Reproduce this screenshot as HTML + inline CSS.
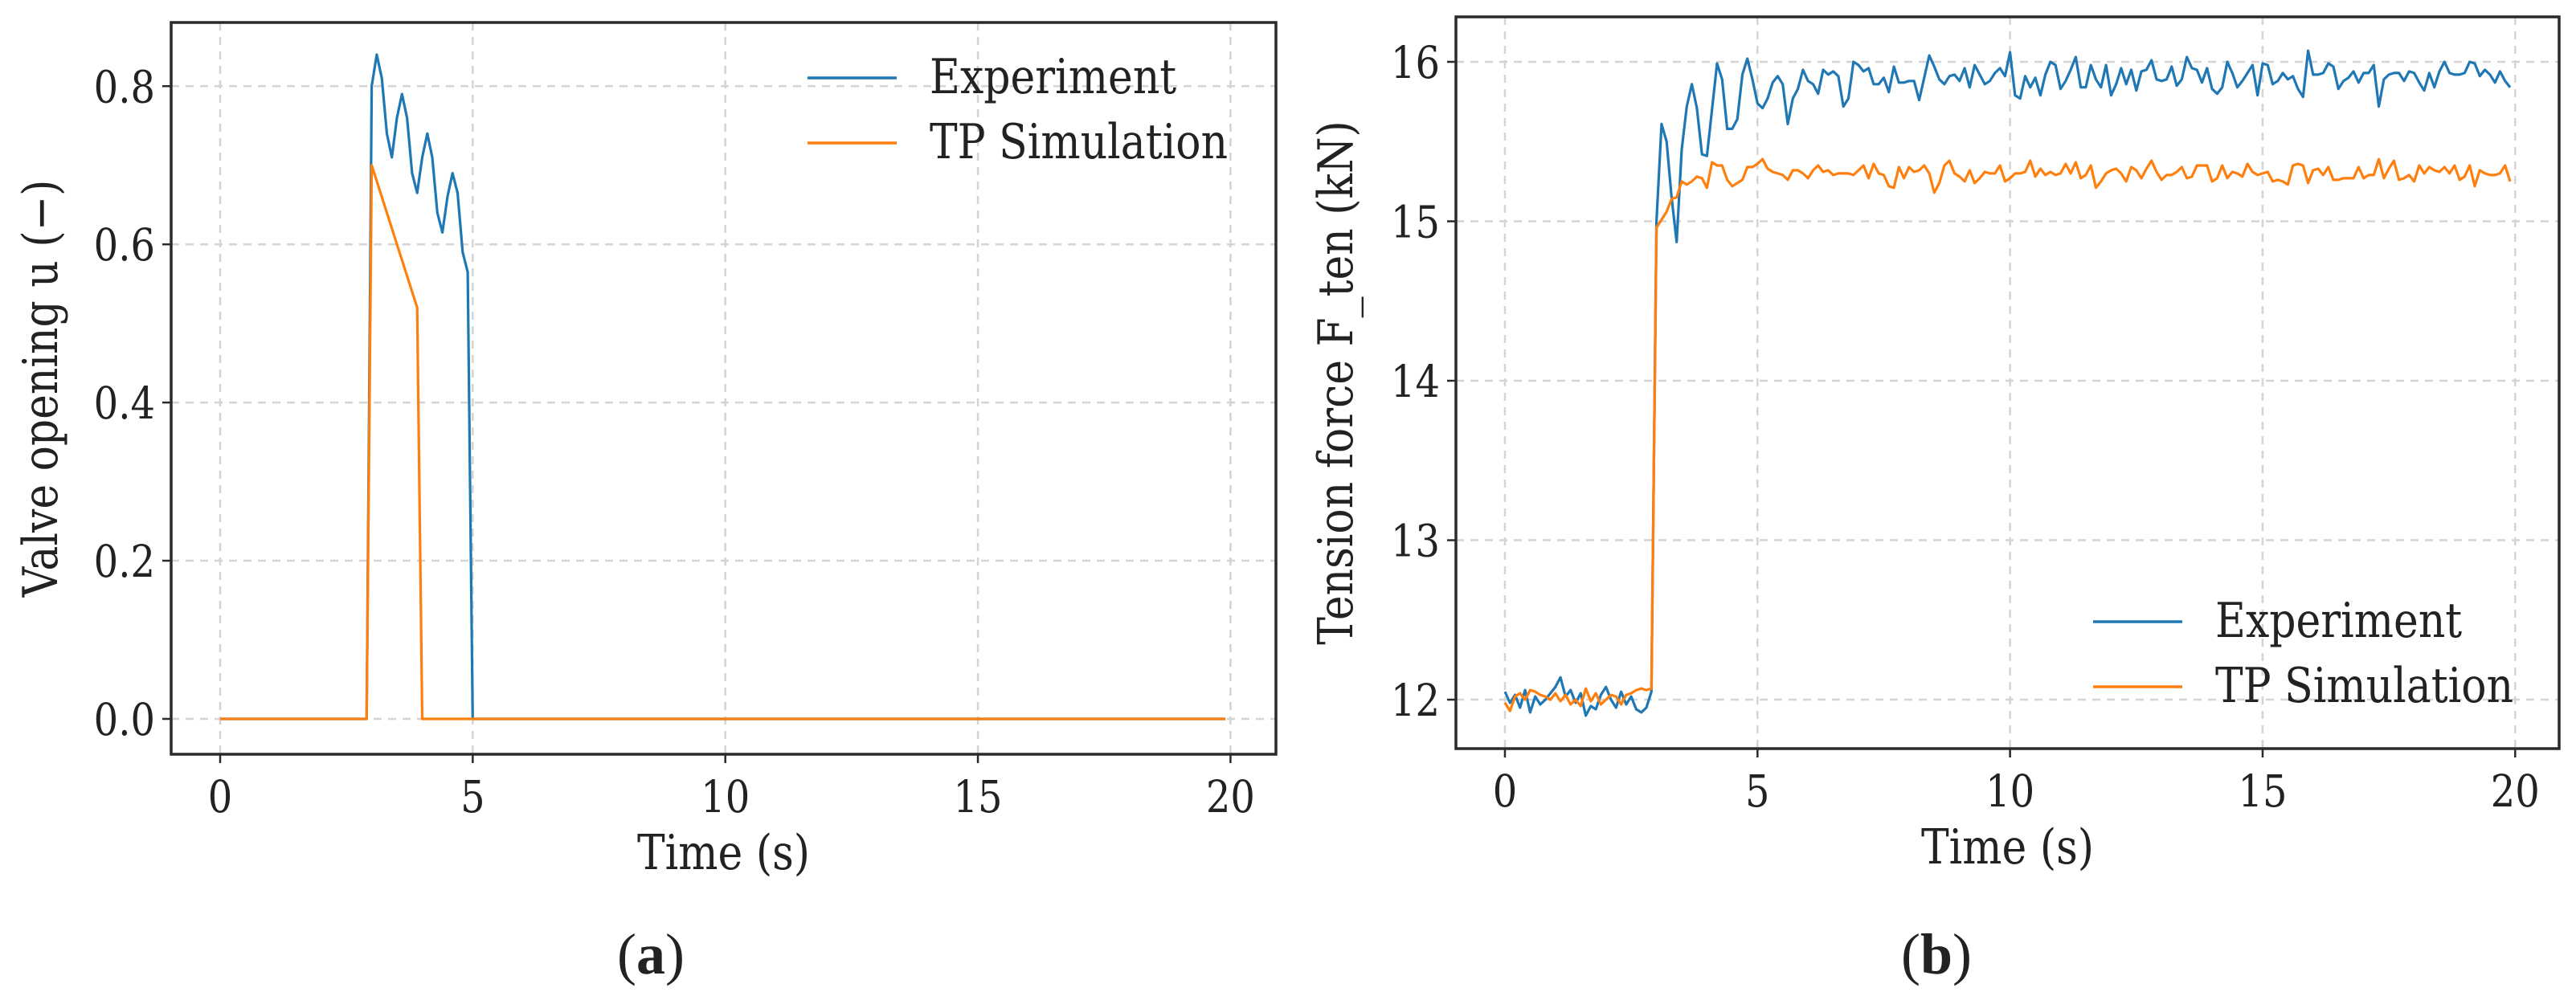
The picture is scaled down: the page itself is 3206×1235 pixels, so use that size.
<!DOCTYPE html>
<html><head><meta charset="utf-8">
<style>
html,body{margin:0;padding:0;background:#fff;}
svg{display:block;}
text{font-family:"DejaVu Serif","Liberation Serif",serif;fill:#222;}
</style></head>
<body>
<svg id="fig" width="3206" height="1235" viewBox="0 0 3206 1235" xmlns="http://www.w3.org/2000/svg">
<g id="pa"></g>
<g id="pb"></g>
<text x="810" y="1212" text-anchor="middle" style="font-family:'Liberation Serif',serif;font-size:72px">(<tspan font-weight="bold">a</tspan>)</text>
<text x="2410" y="1212" text-anchor="middle" style="font-family:'Liberation Serif',serif;font-size:72px">(<tspan font-weight="bold">b</tspan>)</text>
</svg>
<script>
// Panel (a) data
const aExpT = [0,2.9,3.0,3.1,3.2,3.3,3.4,3.5,3.6,3.7,3.8,3.9,4.0,4.1,4.2,4.3,4.4,4.5,4.6,4.7,4.8,4.9,5.0,19.9];
const aExpU = [0,0,0.80,0.84,0.81,0.74,0.71,0.76,0.79,0.76,0.69,0.665,0.71,0.74,0.71,0.64,0.615,0.66,0.69,0.665,0.59,0.565,0,0];
const aSimT = [0,2.9,3.0,3.9,4.0,19.9];
const aSimU = [0,0,0.70,0.52,0,0];
const aXTicks = [0,5,10,15,20];
const aYTicks = [0.0,0.2,0.4,0.6,0.8];
const aYTickLabels = ["0.0","0.2","0.4","0.6","0.8"];

// Panel (b) data (sampled every 0.1 s)
const bExp = [12.05,11.98,12.03,11.95,12.06,11.92,12.02,11.97,12.00,12.04,12.08,12.14,12.02,12.06,11.98,12.04,11.90,11.96,11.94,12.03,12.08,12.00,11.95,12.05,11.97,12.02,11.94,11.92,11.95,12.05,
15.00,15.61,15.50,15.15,14.87,15.45,15.72,15.86,15.71,15.42,15.41,15.70,15.99,15.89,15.58,15.58,15.64,15.92,16.02,15.89,
15.74,15.71,15.77,15.87,15.91,15.86,15.61,15.77,15.83,15.95,15.88,15.86,15.80,15.95,15.92,15.94,15.91,15.72,15.77,16.00,
15.98,15.94,15.96,15.86,15.86,15.90,15.81,15.97,15.87,15.87,15.88,15.88,15.76,15.90,16.04,15.97,15.89,15.86,15.91,15.92,
15.88,15.96,15.84,15.98,15.92,15.86,15.88,15.93,15.96,15.91,
16.06,15.79,15.77,15.91,15.84,15.90,15.79,15.92,16.00,15.98,
15.83,15.88,15.95,16.03,15.84,15.84,15.98,15.89,15.84,15.98,
15.79,15.86,15.96,15.86,15.95,15.82,15.94,15.95,16.01,15.89,
15.88,15.89,15.97,15.85,15.89,16.03,15.96,15.95,15.87,15.96,
15.83,15.80,15.84,16.00,15.93,15.84,15.88,15.93,15.98,15.79,
15.99,15.98,15.86,15.88,15.93,15.89,15.91,15.83,15.78,16.07,
15.92,15.92,15.93,15.99,15.97,15.83,15.88,15.90,15.94,15.87,
15.93,15.93,15.98,15.72,15.89,15.92,15.93,15.93,15.88,15.94,
15.93,15.87,15.82,15.93,15.84,15.94,16.00,15.93,15.92,15.92,
15.93,16.00,15.99,15.91,15.95,15.92,15.87,15.94,15.88,15.84];
const bSim = [11.98,11.93,12.02,12.04,12.00,12.06,12.05,12.03,12.02,12.00,12.04,11.99,12.03,11.97,12.00,11.96,12.07,11.99,12.04,11.97,12.00,12.03,12.02,11.97,12.03,12.04,12.06,12.07,12.06,12.07,
14.96,15.01,15.06,15.14,15.15,15.25,15.23,15.25,15.28,15.27,15.21,15.37,15.35,15.35,15.26,15.22,15.24,15.26,15.34,15.34,
15.36,15.39,15.33,15.31,15.30,15.29,15.26,15.32,15.32,15.30,15.27,15.32,15.35,15.31,15.32,15.29,15.30,15.30,15.30,15.29,
15.32,15.35,15.27,15.36,15.30,15.29,15.22,15.21,15.34,15.27,15.34,15.31,15.32,15.35,15.30,15.18,15.24,15.35,15.38,15.30,
15.28,15.25,15.32,15.24,15.27,15.31,15.30,15.30,15.35,15.25,
15.27,15.30,15.30,15.31,15.38,15.28,15.33,15.29,15.31,15.29,
15.30,15.36,15.30,15.37,15.27,15.29,15.35,15.21,15.25,15.30,
15.32,15.33,15.30,15.25,15.34,15.32,15.27,15.33,15.38,15.31,
15.26,15.29,15.29,15.31,15.34,15.27,15.28,15.35,15.35,15.35,
15.25,15.27,15.35,15.27,15.31,15.30,15.28,15.36,15.31,15.29,
15.30,15.31,15.25,15.26,15.25,15.23,15.35,15.36,15.35,15.24,
15.32,15.33,15.29,15.34,15.26,15.26,15.27,15.27,15.27,15.34,
15.27,15.29,15.29,15.39,15.27,15.33,15.38,15.26,15.27,15.29,
15.25,15.35,15.30,15.34,15.32,15.31,15.34,15.30,15.35,15.26,
15.28,15.35,15.22,15.32,15.30,15.29,15.29,15.30,15.35,15.25];
const bStep = 0.1;
const bXTicks = [0,5,10,15,20];
const bYTicks = [12,13,14,15,16];
const bYTickLabels = ["12","13","14","15","16"];

const NS = "http://www.w3.org/2000/svg";
function mk(parent, tag, attrs){const e=document.createElementNS(NS,tag);for(const k in attrs)e.setAttribute(k,attrs[k]);parent.appendChild(e);return e;}
function txt(parent,x,y,s,size,anchor,rot){
  const g=mk(parent,'g',{transform:`translate(${x},${y})`+(rot?' rotate(-90)':'')+' scale(1,1.15)'});
  const t=mk(g,'text',{x:0,y:0,'text-anchor':anchor,style:`font-size:${size}px`});
  t.textContent=s;return t;
}

function panel(root, cfg){
  const {L,R,T,B,xmin,xmax,ymin,ymax} = cfg;
  const sx = v => L + (v - xmin)/(xmax - xmin)*(R - L);
  const sy = v => B - (v - ymin)/(ymax - ymin)*(B - T);
  const grid = mk(root,'g',{});
  
  
  cfg.xt.forEach(v=>{mk(grid,'line',{x1:sx(v),x2:sx(v),y1:T,y2:B,stroke:'#d4d4d4','stroke-width':2.5,'stroke-dasharray':'10,8'});});
  cfg.yt.forEach(v=>{mk(grid,'line',{x1:L,x2:R,y1:sy(v),y2:sy(v),stroke:'#d4d4d4','stroke-width':2.5,'stroke-dasharray':'10,8'});});
  cfg.series.forEach(s=>{
    const d = s.x.map((xv,i)=>(i?'L':'M')+sx(xv).toFixed(1)+','+sy(s.y[i]).toFixed(1)).join(' ');
    const p = mk(root,'path',{d:d,fill:'none',stroke:s.color,'stroke-width':3.2,'stroke-linejoin':'round'});
    
    
  });
  const fr = mk(root,'rect',{x:L,y:T,width:R-L,height:B-T,fill:'none',stroke:'#2a2a2a','stroke-width':3.5});
  
  
  const xa = mk(root,'g',{});
  
  
  cfg.xt.forEach(v=>{
    mk(xa,'line',{x1:sx(v),x2:sx(v),y1:B,y2:B+11,stroke:'#2a2a2a','stroke-width':2.5});
    const t=txt(xa,sx(v),B+72,String(v),48,'middle');
    
    
  });
  const ya = mk(root,'g',{});
  
  
  cfg.yt.forEach((v,i)=>{
    mk(ya,'line',{x1:L-11,x2:L,y1:sy(v),y2:sy(v),stroke:'#2a2a2a','stroke-width':2.5});
    const t=txt(ya,L-20,sy(v)+20,cfg.ytl[i],48,'end');
    
    
  });
  const xt=txt(root,(L+R)/2,B+143,'Time (s)',52,'middle');
  
  
  const yt=txt(root,cfg.ytx,(T+B)/2,cfg.ytitle,52,'middle',true);
  
  
  const lg = mk(root,'g',{});
  
  
  cfg.series.forEach((s,i)=>{
    const y = cfg.legY + i*81;
    const e = mk(lg,'g',{});
    
    
    mk(e,'line',{x1:cfg.legX,x2:cfg.legX+111,y1:y,y2:y,stroke:s.color,'stroke-width':3.5});
    txt(e,cfg.legX+152,y+19,s.label,52,'start');
  });
}

const bT = bExp.map((_,i)=>+(i*bStep).toFixed(1));

panel(document.getElementById('pa'),{
  L:213,R:1588,T:28,B:939, xmin:-0.97, xmax:20.9, ymin:-0.0447, ymax:0.8805,
  xt:aXTicks, yt:aYTicks, ytl:aYTickLabels, ytx:71, ytitle:'Valve opening u (\u2212)',
  legX:1005, legY:97,
  series:[{name:'experiment-line',label:'Experiment',color:'#1f77b4',x:aExpT,y:aExpU},
          {name:'tp-simulation-line',label:'TP Simulation',color:'#ff7f0e',x:aSimT,y:aSimU}]
});
panel(document.getElementById('pb'),{
  L:1812,R:3185,T:21,B:932, xmin:-0.97, xmax:20.87, ymin:11.693, ymax:16.282,
  xt:bXTicks, yt:bYTicks, ytl:bYTickLabels, ytx:1683, ytitle:'Tension force F_ten (kN)',
  legX:2605, legY:774,
  series:[{name:'experiment-line',label:'Experiment',color:'#1f77b4',x:bT,y:bExp},
          {name:'tp-simulation-line',label:'TP Simulation',color:'#ff7f0e',x:bT,y:bSim}]
});
</script>
</body></html>
